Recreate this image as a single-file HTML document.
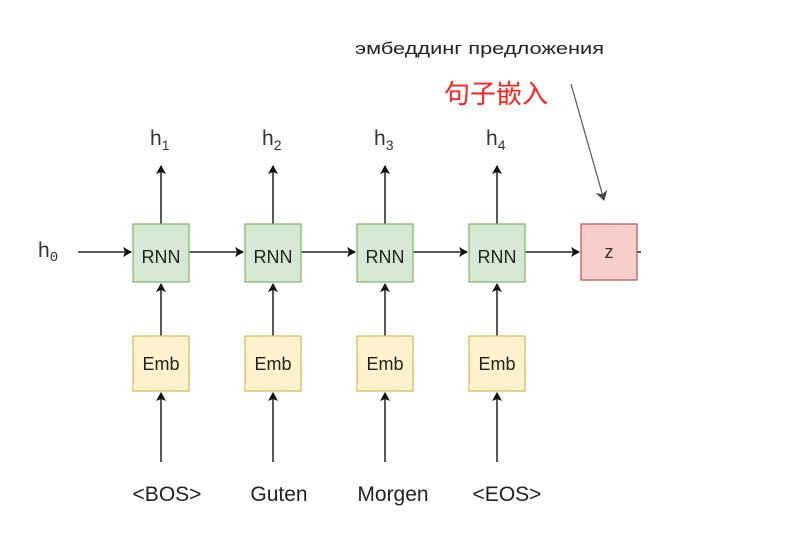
<!DOCTYPE html>
<html><head><meta charset="utf-8"><style>
body{margin:0;background:#fff;}
svg text{font-family:"Liberation Sans","Noto Sans CJK SC",sans-serif;}
</style></head><body>
<svg width="810" height="534" viewBox="0 0 810 534" xmlns="http://www.w3.org/2000/svg">
<defs><marker id="a" markerWidth="10" markerHeight="10" refX="8" refY="5" orient="auto" markerUnits="userSpaceOnUse"><path d="M0,0 L9,5 L0,10 L2,5 z" fill="#111"/></marker>
<marker id="g" markerWidth="12" markerHeight="12" refX="9" refY="6" orient="auto" markerUnits="userSpaceOnUse"><path d="M0,0 L10,6 L0,12 L3,6 z" fill="#444"/></marker></defs>
<text x="355" y="54" font-size="17" fill="#222" textLength="249" lengthAdjust="spacingAndGlyphs">эмбеддинг предложения</text>
<text x="444" y="103" font-size="26" fill="#ff2020">句子嵌入</text>
<line x1="571" y1="84" x2="604" y2="200" stroke="#555" stroke-width="1.2" marker-end="url(#g)"/>
<text x="38" y="257" font-size="21" fill="#333">h<tspan font-size="14" dy="4" font-family="Liberation Mono">0</tspan></text>
<line x1="78" y1="252" x2="131" y2="252" stroke="#222" stroke-width="1.5" marker-end="url(#a)"/>
<g stroke="#222" stroke-width="1.5">
<line x1="189" y1="252" x2="243" y2="252" marker-end="url(#a)"/>
<line x1="301" y1="252" x2="355" y2="252" marker-end="url(#a)"/>
<line x1="413" y1="252" x2="467" y2="252" marker-end="url(#a)"/>
<line x1="525" y1="252" x2="579" y2="252" marker-end="url(#a)"/>
<line x1="637" y1="252" x2="641" y2="252"/>
</g>
<rect x="581" y="224" width="56" height="56" fill="#f8cecc" stroke="#b85450" stroke-width="1.2"/>
<text x="609" y="258" font-size="18" fill="#333" text-anchor="middle">z</text>
<g font-size="21" fill="#222" text-anchor="middle">
<text x="167" y="501">&lt;BOS&gt;</text><text x="279" y="501">Guten</text><text x="393" y="501">Morgen</text><text x="507" y="501">&lt;EOS&gt;</text>
</g>
<g transform="translate(0,0)">
<line x1="161" y1="224" x2="161" y2="166" stroke="#222" stroke-width="1.5" marker-end="url(#a)"/>
<line x1="161" y1="336" x2="161" y2="284" stroke="#222" stroke-width="1.5" marker-end="url(#a)"/>
<line x1="161" y1="462" x2="161" y2="393" stroke="#222" stroke-width="1.5" marker-end="url(#a)"/>
<rect x="133" y="224" width="56" height="58" fill="#d5e8d4" stroke="#82b366" stroke-width="1.2"/>
<rect x="133" y="336" width="56" height="55" fill="#fff2cc" stroke="#d6b656" stroke-width="1.2"/>
<text x="161" y="263" font-size="18" fill="#222" text-anchor="middle">RNN</text>
<text x="161" y="370" font-size="18" fill="#222" text-anchor="middle">Emb</text>
<text x="150" y="145" font-size="21" fill="#333">h<tspan font-size="14" dy="5">1</tspan></text>
</g>
<g transform="translate(112,0)">
<line x1="161" y1="224" x2="161" y2="166" stroke="#222" stroke-width="1.5" marker-end="url(#a)"/>
<line x1="161" y1="336" x2="161" y2="284" stroke="#222" stroke-width="1.5" marker-end="url(#a)"/>
<line x1="161" y1="462" x2="161" y2="393" stroke="#222" stroke-width="1.5" marker-end="url(#a)"/>
<rect x="133" y="224" width="56" height="58" fill="#d5e8d4" stroke="#82b366" stroke-width="1.2"/>
<rect x="133" y="336" width="56" height="55" fill="#fff2cc" stroke="#d6b656" stroke-width="1.2"/>
<text x="161" y="263" font-size="18" fill="#222" text-anchor="middle">RNN</text>
<text x="161" y="370" font-size="18" fill="#222" text-anchor="middle">Emb</text>
<text x="150" y="145" font-size="21" fill="#333">h<tspan font-size="14" dy="5">2</tspan></text>
</g>
<g transform="translate(224,0)">
<line x1="161" y1="224" x2="161" y2="166" stroke="#222" stroke-width="1.5" marker-end="url(#a)"/>
<line x1="161" y1="336" x2="161" y2="284" stroke="#222" stroke-width="1.5" marker-end="url(#a)"/>
<line x1="161" y1="462" x2="161" y2="393" stroke="#222" stroke-width="1.5" marker-end="url(#a)"/>
<rect x="133" y="224" width="56" height="58" fill="#d5e8d4" stroke="#82b366" stroke-width="1.2"/>
<rect x="133" y="336" width="56" height="55" fill="#fff2cc" stroke="#d6b656" stroke-width="1.2"/>
<text x="161" y="263" font-size="18" fill="#222" text-anchor="middle">RNN</text>
<text x="161" y="370" font-size="18" fill="#222" text-anchor="middle">Emb</text>
<text x="150" y="145" font-size="21" fill="#333">h<tspan font-size="14" dy="5">3</tspan></text>
</g>
<g transform="translate(336,0)">
<line x1="161" y1="224" x2="161" y2="166" stroke="#222" stroke-width="1.5" marker-end="url(#a)"/>
<line x1="161" y1="336" x2="161" y2="284" stroke="#222" stroke-width="1.5" marker-end="url(#a)"/>
<line x1="161" y1="462" x2="161" y2="393" stroke="#222" stroke-width="1.5" marker-end="url(#a)"/>
<rect x="133" y="224" width="56" height="58" fill="#d5e8d4" stroke="#82b366" stroke-width="1.2"/>
<rect x="133" y="336" width="56" height="55" fill="#fff2cc" stroke="#d6b656" stroke-width="1.2"/>
<text x="161" y="263" font-size="18" fill="#222" text-anchor="middle">RNN</text>
<text x="161" y="370" font-size="18" fill="#222" text-anchor="middle">Emb</text>
<text x="150" y="145" font-size="21" fill="#333">h<tspan font-size="14" dy="5">4</tspan></text>
</g>
</svg>
</body></html>
